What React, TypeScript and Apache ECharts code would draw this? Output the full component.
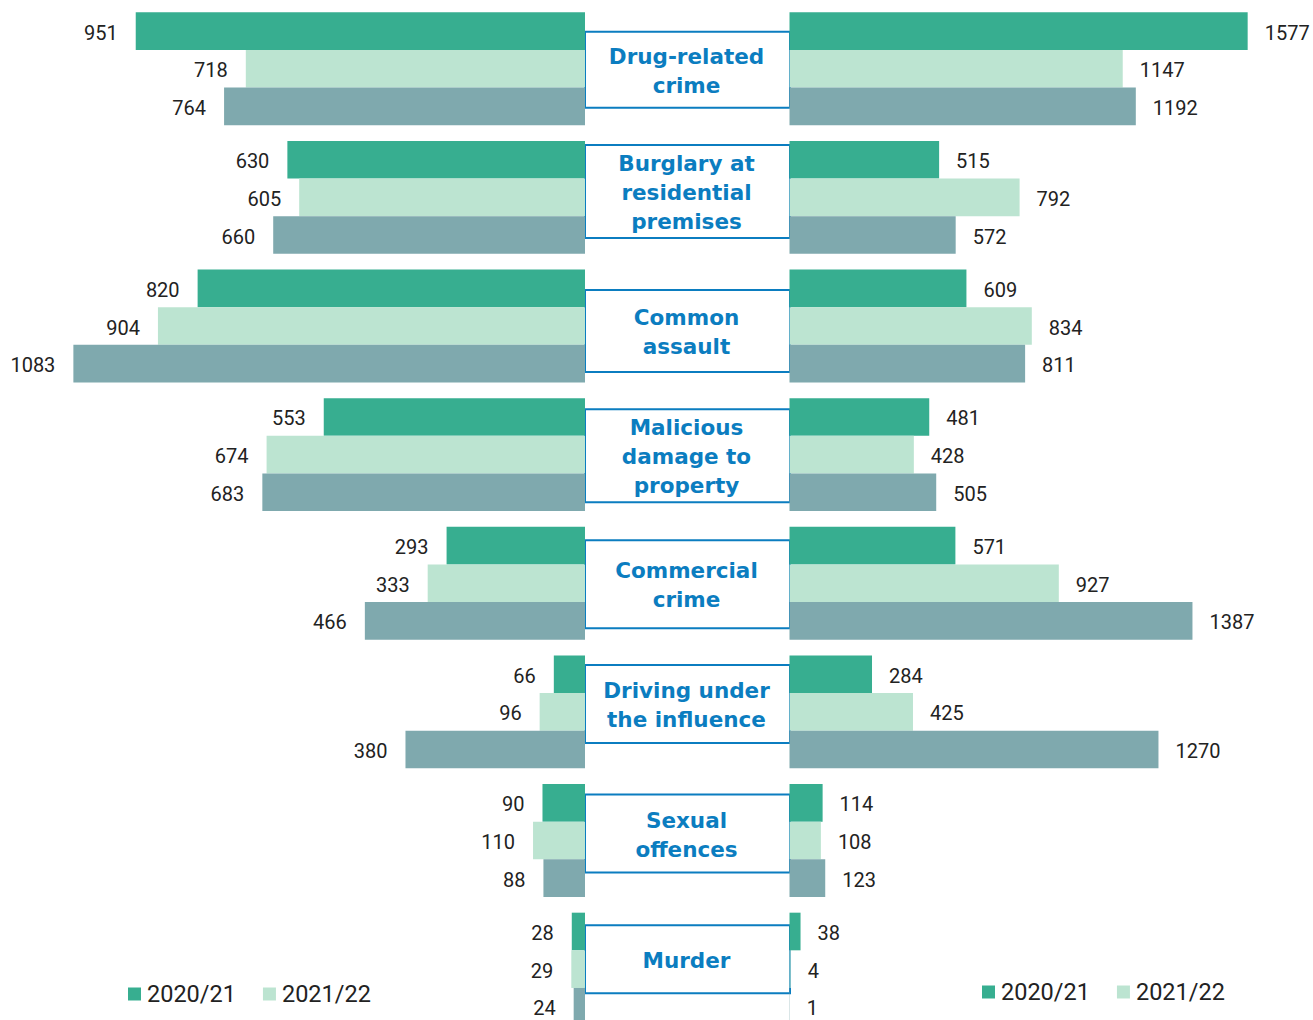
import React, { useEffect, useRef } from 'react';
import * as echarts from 'echarts';

// ---- data ----
const categories = [
  'Drug-related\ncrime',
  'Burglary at\nresidential\npremises',
  'Common\nassault',
  'Malicious\ndamage to\nproperty',
  'Commercial\ncrime',
  'Driving under\nthe influence',
  'Sexual\noffences',
  'Murder',
];
const seriesNames = ['2020/21', '2021/22', '2022/23'];
const legendItems = ['2020/21', '2021/22'];

const left2020 = [951, 630, 820, 553, 293, 66, 90, 28];
const left2021 = [718, 605, 904, 674, 333, 96, 110, 29];
const left2022 = [764, 660, 1083, 683, 466, 380, 88, 24];

const right2020 = [1577, 515, 609, 481, 571, 284, 114, 38];
const right2021 = [1147, 792, 834, 428, 927, 425, 108, 4];
const right2022 = [1192, 572, 811, 505, 1387, 1270, 123, 1];

// ---- styling ----
const COLORS = ['#37AE90', '#BCE4D1', '#7FA9AE'];
const BLUE = '#0B7DC0';
const LABEL_FONT = 'Roboto, "Noto Sans", sans-serif';
const TITLE_FONT = '"DejaVu Sans", "Noto Sans", sans-serif';
// label box height and vertical shift per category (styling only)
const boxHeights = [76, 93, 82, 93, 88, 78, 78, 68];
const boxShift = [1, -6, 5, 1, 1, -8, -7, -10];

const GRID_TOP = 4.45;
const GRID_HEIGHT = 1029;

export default function App() {
  const ref = useRef<HTMLDivElement>(null);

  useEffect(() => {
    document.body.style.margin = '0';
    document.body.style.overflow = 'hidden';
    if (!ref.current) return;
    const chart = echarts.init(ref.current, null, { renderer: 'svg' });

    const leftSeries = [left2020, left2021, left2022].map((d, i) => ({
      name: seriesNames[i],
      type: 'bar',
      xAxisIndex: 0,
      yAxisIndex: 0,
      data: d,
      barGap: '0%',
      barCategoryGap: '12.2%',
      itemStyle: { color: COLORS[i] },
      z: 3,
      label: {
        show: true,
        position: 'left',
        distance: 18,
        offset: [0, 1.5],
        fontSize: 20,
        fontFamily: LABEL_FONT,
        color: '#222',
      },
    }));
    const rightSeries = [right2020, right2021, right2022].map((d, i) => ({
      name: seriesNames[i],
      type: 'bar',
      xAxisIndex: 1,
      yAxisIndex: 1,
      data: d,
      barGap: '0%',
      barCategoryGap: '12.2%',
      itemStyle: { color: COLORS[i] },
      z: 3,
      label: {
        show: true,
        position: 'right',
        distance: 17,
        offset: [0, 1.5],
        fontSize: 20,
        fontFamily: LABEL_FONT,
        color: '#222',
      },
    }));

    const boxSeries = {
      type: 'custom',
      xAxisIndex: 2,
      yAxisIndex: 2,
      z: 1,
      silent: true,
      encode: { x: 0, y: 1 },
      data: categories.map((c, i) => [0, i]),
      renderItem: (params: any, api: any) => {
        const idx = api.value(1);
        const p0 = api.coord([0, idx]);
        const p1 = api.coord([1, idx]);
        const h = boxHeights[idx];
        const cy = p0[1] + boxShift[idx];
        return {
          type: 'group',
          children: [
            {
              type: 'rect',
              shape: { x: p0[0], y: cy - h / 2, width: p1[0] - p0[0], height: h },
              style: { fill: '#fff', stroke: BLUE, lineWidth: 2 },
            },
            {
              type: 'text',
              style: {
                text: categories[idx],
                x: (p0[0] + p1[0]) / 2 - 1,
                y: cy + 1,
                align: 'center',
                verticalAlign: 'middle',
                fontSize: 21.5,
                fontWeight: 'bold',
                fontFamily: TITLE_FONT,
                lineHeight: 29,
                fill: BLUE,
              },
            },
          ],
        };
      },
    };

    const legendBase = {
      data: legendItems,
      orient: 'horizontal',
      icon: 'rect',
      itemWidth: 13,
      itemHeight: 13,
      itemGap: 27,
      padding: 0,
      selectedMode: false,
      textStyle: {
        fontSize: 23.5,
        fontFamily: LABEL_FONT,
        color: '#222',
        lineHeight: 24,
        padding: [0, 0, 0, 1],
      },
    };

    const gridBase = { top: GRID_TOP, height: GRID_HEIGHT, outerBoundsMode: 'none', containLabel: false };

    chart.setOption({
      animation: false,
      backgroundColor: '#fff',
      legend: [
        { ...legendBase, left: 128, top: 982 },
        { ...legendBase, left: 982, top: 980 },
      ],
      grid: [
        { ...gridBase, left: 18.1, right: 728 },
        { ...gridBase, left: 789.5, right: 29.6 },
        { ...gridBase, left: 585, right: 523 },
      ],
      xAxis: [
        { type: 'value', gridIndex: 0, inverse: true, min: 0, max: 1200, show: false },
        { type: 'value', gridIndex: 1, min: 0, max: 1700, show: false },
        { type: 'value', gridIndex: 2, min: 0, max: 1, show: false },
      ],
      yAxis: [0, 1, 2].map((g) => ({
        type: 'category',
        gridIndex: g,
        data: categories,
        inverse: true,
        show: false,
      })),
      series: [...leftSeries, ...rightSeries, boxSeries],
    });

    return () => chart.dispose();
  }, []);

  return (
    <div
      ref={ref}
      style={{ position: 'absolute', left: 0, top: 0, width: 1313, height: 1020 }}
    />
  );
}
